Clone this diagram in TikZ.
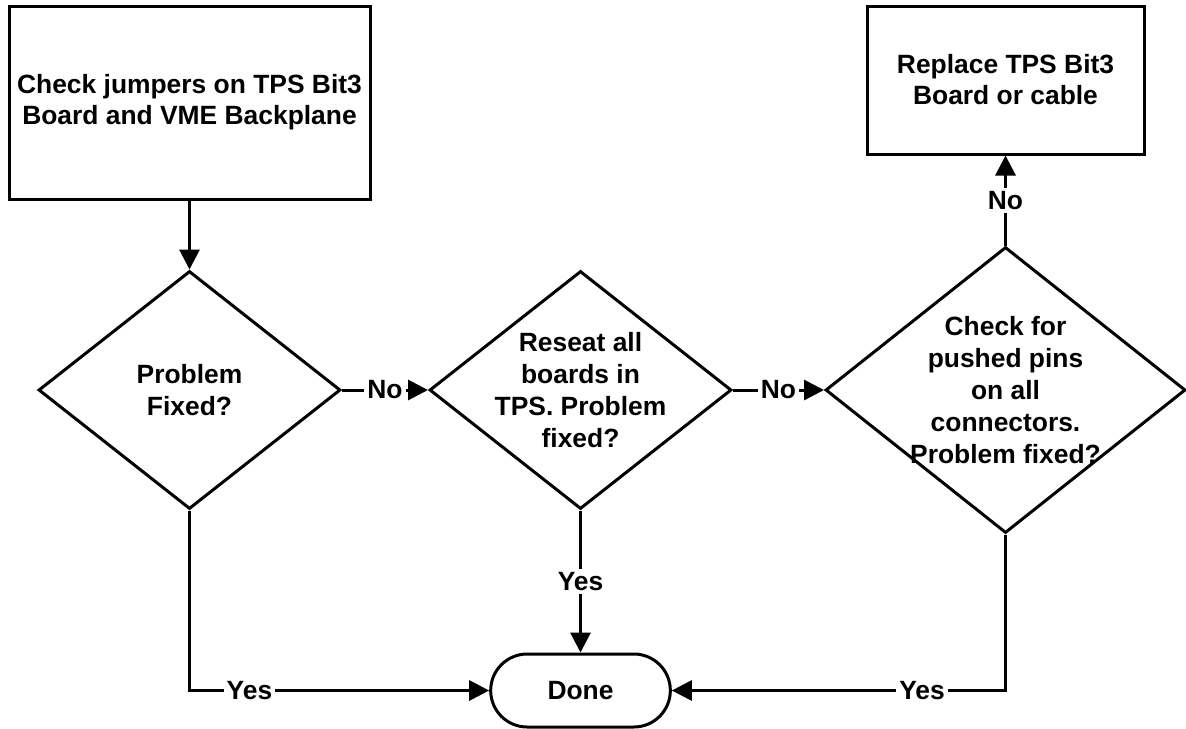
\documentclass[tikz,border=0pt]{standalone}
\usepackage{fontspec}
\setmainfont{Liberation Sans}
\usetikzlibrary{shapes,arrows.meta}

\begin{document}
\begin{tikzpicture}[x=0.5pt, y=-0.5pt, line width=1.5pt, >={Triangle[length=10pt,width=10pt]},
  font=\bfseries\fontsize{13.2}{15.5}\selectfont,
  decision/.style={draw, diamond, inner sep=0pt},
  txt/.style={align=center, font=\bfseries\fontsize{13.2}{16}\selectfont},
  answer/.style={fill=white, inner sep=1.5pt}]
  \useasboundingbox (0,0) rectangle (1186,728);
  % Nodes
  \node[draw, minimum width=180.5pt, minimum height=96.5pt, align=center](jumpers) at (189.5,102.5){Check jumpers on TPS Bit3\\Board and VME Backplane};
  \node[draw, minimum width=138.5pt, minimum height=74pt, align=center](replace) at (1005.5,80){Replace TPS Bit3\\Board or cable};
  \node[decision, minimum width=151pt, minimum height=119pt, label={[txt]center:Problem\\Fixed?}](fixed) at (189.5,390) {};
  \node[decision, minimum width=151pt, minimum height=119pt, label={[txt]center:Reseat all\\boards in\\TPS. Problem\\fixed?}](reseat) at (580.5,390) {};
  \node[decision, minimum width=180pt, minimum height=143pt, label={[txt]center:Check for\\pushed pins\\on all\\connectors.\\Problem fixed?}](pins) at (1005.5,390) {};
  \node[draw, rounded rectangle, minimum width=96.5pt, minimum height=36.5pt](done) at (580.5,690.5){Done};
  % Edges
  \draw[->](jumpers.south)--(fixed.north);
  \draw[->](fixed.east)--node[answer]{No}(reseat.west);
  \draw[->](reseat.east)--node[answer]{No}(pins.west);
  \draw[->](pins.north)--node[answer]{No}(replace.south);
  \draw[->](reseat.south)--node[answer]{Yes}(done.north);
  \draw[->](fixed.south)|-node[answer, pos=0.6]{Yes}(done.west);
  \draw[->](pins.south)|-node[answer, pos=0.625]{Yes}(done.east);
\end{tikzpicture}
\end{document}
